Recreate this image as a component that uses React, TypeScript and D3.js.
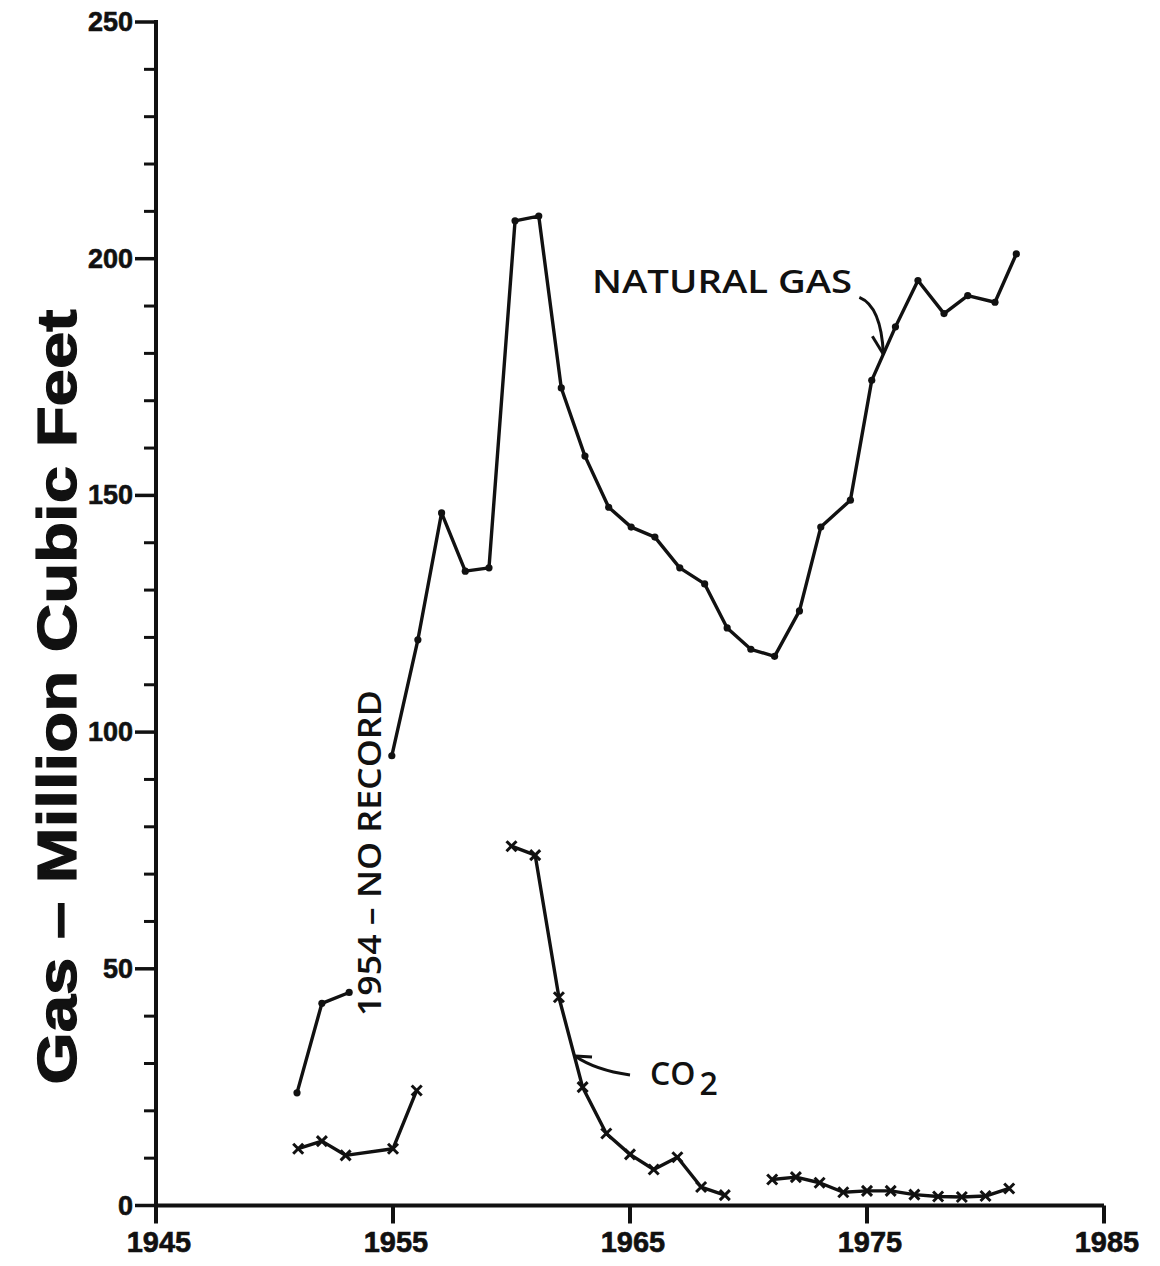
import React from "react";
import * as d3 from "d3";

// ---- data ----
const xTicks = [1945, 1955, 1965, 1975, 1985];
const yMajorTicks = [0, 50, 100, 150, 200, 250];
const yMinorTicks = d3.range(0, 251, 10).filter((v) => v % 50 !== 0);

// Natural gas (dots); null = no record
const gasYears = [1950.95, 1952.0, 1953.15, 1954, 1954.95, 1956.05, 1957.05, 1958.05, 1959.05, 1960.15, 1961.15, 1962.1, 1963.1, 1964.1, 1965.05, 1966.05, 1967.1, 1968.15, 1969.1, 1970.1, 1971.1, 1972.15, 1973.05, 1974.3, 1975.2, 1976.2, 1977.15, 1978.25, 1979.25, 1980.4, 1981.3];
const gasValues: (number | null)[] = [23.8, 42.7, 45, null, 95, 119.5, 146.3, 134, 134.7, 208, 209, 172.7, 158.3, 147.5, 143.3, 141.2, 134.7, 131.3, 122, 117.5, 116, 125.6, 143.3, 149, 174.3, 185.6, 195.4, 188.4, 192.2, 190.8, 201];

// CO2 (x markers); null = gap in the line
const co2Years = [1951, 1952, 1953, 1955, 1956, 1957, 1960, 1961, 1962, 1963, 1964, 1965, 1966, 1967, 1968, 1969, 1970, 1971, 1972, 1973, 1974, 1975, 1976, 1977, 1978, 1979, 1980, 1981];
const co2Values: (number | null)[] = [12, 13.6, 10.6, 12, 24.3, null, 75.9, 74, 44, 25, 15.2, 10.8, 7.6, 10.2, 3.9, 2.2, null, 5.5, 6, 4.8, 2.8, 3.1, 3.1, 2.3, 1.9, 1.8, 2.0, 3.6];

const W = 1160;
const H = 1266;

export default function App() {
  const x = d3.scaleLinear().domain([1945, 1985]).range([156, 1104]);
  const y = d3.scaleLinear().domain([0, 250]).range([1205.5, 22]);

  const gas = gasYears.map((yr, i) => ({ yr, v: gasValues[i] }));
  const co2 = co2Years.map((yr, i) => ({ yr, v: co2Values[i] }));

  const line = d3
    .line<{ yr: number; v: number | null }>()
    .defined((d) => d.v !== null)
    .x((d) => x(d.yr))
    .y((d) => y(d.v as number));

  const stroke = "#111";
  const tickFont = "'Liberation Sans', Arial, sans-serif";
  const annFont = "'Open Sans', 'DejaVu Sans', sans-serif";

  // annotation anchors (on the data lines)
  const ngTipX = x(1975.69);
  const ngTipY = y(179.8);
  const coTipX = x(1962.68);
  const coTipY = y(31.6);

  return (
    <svg
      width={W}
      height={H}
      viewBox={`0 0 ${W} ${H}`}
      style={{ position: "absolute", left: 0, top: 0, background: "#fff" }}
    >
      <rect x={0} y={0} width={W} height={H} fill="#fff" />

      {/* axes */}
      <line x1={x(1945)} y1={y(0)} x2={x(1985)} y2={y(0)} stroke={stroke} strokeWidth={4} />
      <line x1={x(1945)} y1={y(0) + 2} x2={x(1945)} y2={y(250) - 2} stroke={stroke} strokeWidth={4} />

      {/* y ticks */}
      {yMajorTicks.map((t) => (
        <g key={"ym" + t}>
          <line x1={x(1945) - 21} x2={x(1945)} y1={y(t)} y2={y(t)} stroke={stroke} strokeWidth={3.5} />
          <text
            x={133}
            y={y(t) + 9}
            textAnchor="end"
            fontFamily={tickFont}
            fontWeight="bold"
            fontSize={27}
            stroke={stroke}
            strokeWidth={0.6}
            fill={stroke}
          >
            {t}
          </text>
        </g>
      ))}
      {yMinorTicks.map((t) => (
        <line key={"yn" + t} x1={x(1945) - 12} x2={x(1945)} y1={y(t)} y2={y(t)} stroke={stroke} strokeWidth={3} />
      ))}

      {/* x ticks */}
      {xTicks.map((t) => (
        <g key={"x" + t}>
          <line x1={x(t)} x2={x(t)} y1={y(0)} y2={y(0) + 18} stroke={stroke} strokeWidth={4} />
          <text
            x={x(t) + 3}
            y={1252}
            textAnchor="middle"
            fontFamily={tickFont}
            fontWeight="bold"
            fontSize={29}
            stroke={stroke}
            strokeWidth={0.6}
            fill={stroke}
          >
            {t}
          </text>
        </g>
      ))}

      {/* y axis title */}
      <text
        transform={`translate(76, 697) rotate(-90)`}
        textAnchor="middle"
        fontFamily={tickFont}
        fontWeight="bold"
        fontSize={56}
        stroke={stroke}
        strokeWidth={1.2}
        fill={stroke}
        textLength={775}
        lengthAdjust="spacingAndGlyphs"
      >
        Gas – Million Cubic Feet
      </text>

      {/* series lines */}
      <path d={line(gas) || ""} fill="none" stroke={stroke} strokeWidth={3.4} strokeLinejoin="round" />
      <path d={line(co2) || ""} fill="none" stroke={stroke} strokeWidth={3.4} strokeLinejoin="round" />

      {/* markers */}
      {gas
        .filter((d) => d.v !== null)
        .map((d, i) => (
          <circle key={"g" + i} cx={x(d.yr)} cy={y(d.v as number)} r={3.6} fill={stroke} />
        ))}
      {co2
        .filter((d) => d.v !== null)
        .map((d, i) => {
          const cx = x(d.yr);
          const cy = y(d.v as number);
          const s = 5;
          return (
            <g key={"c" + i} stroke={stroke} strokeWidth={3}>
              <line x1={cx - s} y1={cy - s} x2={cx + s} y2={cy + s} />
              <line x1={cx - s} y1={cy + s} x2={cx + s} y2={cy - s} />
            </g>
          );
        })}

      {/* annotations */}
      <text
        x={x(1963.4)}
        y={y(192.7)}
        fontFamily={annFont}
        fontWeight={600}
        fontSize={33}
        fill={stroke}
        textLength={260}
        lengthAdjust="spacingAndGlyphs"
      >
        NATURAL GAS
      </text>
      <path
        d={`M ${ngTipX - 24} ${ngTipY - 57} Q ${ngTipX - 2} ${ngTipY - 48} ${ngTipX} ${ngTipY}`}
        fill="none"
        stroke={stroke}
        strokeWidth={3}
      />
      <line x1={ngTipX - 11} y1={ngTipY - 18} x2={ngTipX} y2={ngTipY} stroke={stroke} strokeWidth={3} />

      <text
        x={650}
        y={y(25.5)}
        fontFamily={annFont}
        fontWeight={600}
        fontSize={32}
        fill={stroke}
      >
        CO
        <tspan dx={4} dy={10}>
          2
        </tspan>
      </text>
      <path
        d={`M ${coTipX + 55} ${coTipY + 19} Q ${coTipX + 20} ${coTipY + 14} ${coTipX} ${coTipY}`}
        fill="none"
        stroke={stroke}
        strokeWidth={3}
      />
      <line x1={coTipX + 17} y1={coTipY + 1} x2={coTipX} y2={coTipY} stroke={stroke} strokeWidth={3} />

      <text
        transform={`translate(${x(1954) + 12}, ${y(40)}) rotate(-90)`}
        fontFamily={annFont}
        fontWeight={600}
        fontSize={32}
        fill={stroke}
        textLength={326}
        lengthAdjust="spacingAndGlyphs"
      >
        1954 – NO RECORD
      </text>
    </svg>
  );
}
